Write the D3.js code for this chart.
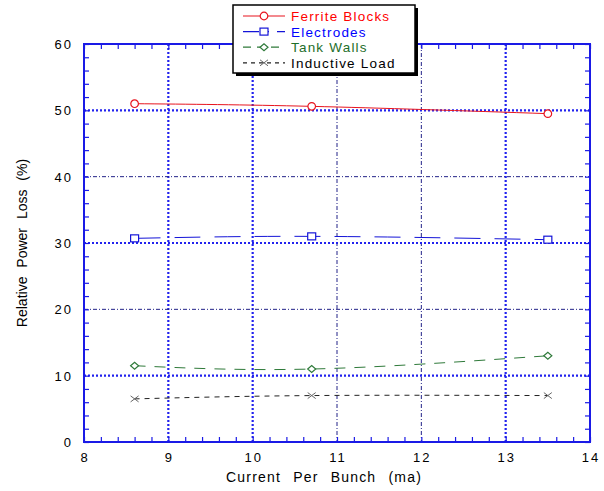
<!DOCTYPE html>
<html>
<head>
<meta charset="utf-8">
<script src="https://cdnjs.cloudflare.com/ajax/libs/d3/7.8.5/d3.min.js"></script>
<style>
  body { margin: 0; background: #fff; }
  svg text { font-family: "Liberation Sans", Arial, sans-serif; }
</style>
</head>
<body>
<div id="chart"></div>
<script>
var currents = [8.6, 10.7, 13.5];
var ferriteBlocks = [51, 50.6, 49.5];
var electrodes = [30.7, 31, 30.5];
var tankWalls = [11.5, 11, 13];
var inductiveLoad = [6.5, 7, 7];
var seriesNames = ["Ferrite Blocks", "Electrodes", "Tank Walls", "Inductive Load"];
var xTicks = [8, 9, 10, 11, 12, 13, 14];
var yTicks = [0, 10, 20, 30, 40, 50, 60];

var width = 604,
    height = 491;
var plotLeft = 84, plotRight = 590, plotTop = 44, plotBottom = 442;
var axisBlue = "#1a1ae6";

var svg = d3.select("#chart").append("svg")
    .attr("width", width)
    .attr("height", height);

var x = d3.scaleLinear().domain([8, 14]).range([plotLeft, plotRight]);
var y = d3.scaleLinear().domain([0, 60]).range([plotBottom, plotTop]);

// grid lines - some drawn heavy, some light, as in the original
var heavyX = [9, 10, 13], heavyY = [10, 30, 50];
var grid = svg.append("g");
grid.selectAll(".gx")
    .data(xTicks.slice(1, -1))
    .enter().append("line")
    .attr("x1", function(d) { return x(d); })
    .attr("x2", function(d) { return x(d); })
    .attr("y1", plotTop).attr("y2", plotBottom)
    .style("stroke", function(d) { return heavyX.indexOf(d) >= 0 ? "#2222ee" : "#222288"; })
    .style("stroke-width", function(d) { return heavyX.indexOf(d) >= 0 ? 2.2 : 1; })
    .style("stroke-dasharray", function(d) { return heavyX.indexOf(d) >= 0 ? "2,2" : "4,2,1,2"; });
grid.selectAll(".gy")
    .data(yTicks.slice(1, -1))
    .enter().append("line")
    .attr("y1", function(d) { return y(d); })
    .attr("y2", function(d) { return y(d); })
    .attr("x1", plotLeft).attr("x2", plotRight)
    .style("stroke", function(d) { return heavyY.indexOf(d) >= 0 ? "#2222ee" : "#222288"; })
    .style("stroke-width", function(d) { return heavyY.indexOf(d) >= 0 ? 2.2 : 1; })
    .style("stroke-dasharray", function(d) { return heavyY.indexOf(d) >= 0 ? "2,2" : "4,2,1,2"; });

// axes with minor ticks on all four sides
var minorX = d3.range(8, 14.001, 0.2);
var minorY = d3.range(0, 60.001, 2);
function styleAxis(g) {
    g.select(".domain").remove();
    g.selectAll("line").style("stroke", axisBlue).style("stroke-width", 1.2);
}
svg.append("g").attr("transform", "translate(0," + plotBottom + ")")
    .call(d3.axisBottom(x).tickValues(minorX).tickSize(-5).tickFormat("")).call(styleAxis);
svg.append("g").attr("transform", "translate(0," + plotTop + ")")
    .call(d3.axisTop(x).tickValues(minorX).tickSize(-5).tickFormat("")).call(styleAxis);
svg.append("g").attr("transform", "translate(" + plotLeft + ",0)")
    .call(d3.axisLeft(y).tickValues(minorY).tickSize(-5).tickFormat("")).call(styleAxis);
svg.append("g").attr("transform", "translate(" + plotRight + ",0)")
    .call(d3.axisRight(y).tickValues(minorY).tickSize(-5).tickFormat("")).call(styleAxis);

svg.append("rect")
    .attr("x", plotLeft).attr("y", plotTop)
    .attr("width", plotRight - plotLeft).attr("height", plotBottom - plotTop)
    .style("fill", "none")
    .style("stroke", axisBlue)
    .style("stroke-width", 2);

// tick labels
svg.selectAll(".xl")
    .data(xTicks)
    .enter().append("text")
    .attr("x", function(d) { return x(d) + 1; })
    .attr("y", 462)
    .attr("text-anchor", "middle")
    .style("font-size", "13px")
    .style("letter-spacing", "2px")
    .text(function(d) { return d; });
svg.selectAll(".yl")
    .data(yTicks)
    .enter().append("text")
    .attr("x", 73)
    .attr("y", function(d) { return y(d) + 5; })
    .attr("text-anchor", "end")
    .style("font-size", "13px")
    .style("letter-spacing", "2px")
    .text(function(d) { return d; });

svg.append("text")
    .attr("x", 324)
    .attr("y", 482)
    .attr("text-anchor", "middle")
    .style("font-size", "14px")
    .style("letter-spacing", "1.2px")
    .style("word-spacing", "7px")
    .text("Current Per Bunch (ma)");
svg.append("text")
    .attr("transform", "translate(27," + ((plotTop + plotBottom) / 2) + ") rotate(-90)")
    .attr("text-anchor", "middle")
    .style("font-size", "14px")
    .style("word-spacing", "5px")
    .text("Relative Power Loss (%)");

// series
var series = [
    { name: seriesNames[0], values: ferriteBlocks, color: "#e8141e", text: "#ff0000", dash: null, legendDash: null, marker: "circle" },
    { name: seriesNames[1], values: electrodes, color: "#1414d8", text: "#0000ff", dash: "26,14", legendDash: "16,8,2,8", marker: "square" },
    { name: seriesNames[2], values: tankWalls, color: "#2f7a3a", text: "#1e6e2a", dash: "11,9", legendDash: "8,6", marker: "diamond" },
    { name: seriesNames[3], values: inductiveLoad, color: "#222222", text: "#000000", dash: "5,5", legendDash: "4,4", marker: "cross" }
];

var line = d3.line()
    .x(function(d) { return x(d[0]); })
    .y(function(d) { return y(d[1]); })
    .curve(d3.curveNatural);

function drawMarker(g, type, color) {
    if (type === "circle") {
        g.append("circle").attr("r", 3.8).style("fill", "#fff").style("stroke", color).style("stroke-width", 1.2);
    } else if (type === "square") {
        g.append("rect").attr("x", -4).attr("y", -3.5).attr("width", 8).attr("height", 7)
            .style("fill", "#fff").style("stroke", color).style("stroke-width", 1.2);
    } else if (type === "diamond") {
        g.append("path").attr("d", "M-4,0L0,-3.5L4,0L0,3.5Z")
            .style("fill", "#fff").style("stroke", color).style("stroke-width", 1.2);
    } else {
        g.append("path").attr("d", "M-4,-3L4,3M-4,3L4,-3")
            .style("fill", "none").style("stroke", "#666").style("stroke-width", 1);
    }
}

series.forEach(function(s) {
    var pts = currents.map(function(c, i) { return [c, s.values[i]]; });
    svg.append("path")
        .datum(pts)
        .attr("d", line)
        .style("fill", "none")
        .style("stroke", s.color)
        .style("stroke-width", 1)
        .style("stroke-dasharray", s.dash);
    pts.forEach(function(p) {
        var g = svg.append("g").attr("transform", "translate(" + x(p[0]) + "," + y(p[1]) + ")");
        drawMarker(g, s.marker, s.color);
    });
});

// legend
var lg = svg.append("g");
lg.append("rect").attr("x", 236).attr("y", 8).attr("width", 182).attr("height", 68).style("fill", "#000");
lg.append("rect").attr("x", 233).attr("y", 5).attr("width", 182).attr("height", 68)
    .style("fill", "#fff").style("stroke", "#000").style("stroke-width", 1.5);
series.forEach(function(s, i) {
    var ly = 16 + i * 15.6;
    lg.append("line")
        .attr("x1", 243).attr("x2", 285).attr("y1", ly).attr("y2", ly)
        .style("stroke", s.color).style("stroke-width", 1.2)
        .style("stroke-dasharray", s.legendDash);
    var g = lg.append("g").attr("transform", "translate(264," + ly + ")");
    drawMarker(g, s.marker, s.color);
    lg.append("text")
        .attr("x", 291).attr("y", ly + 5)
        .style("font-size", "13.5px")
        .style("letter-spacing", "1.2px")
        .style("fill", s.text)
        .text(s.name);
});
</script>
</body>
</html>
